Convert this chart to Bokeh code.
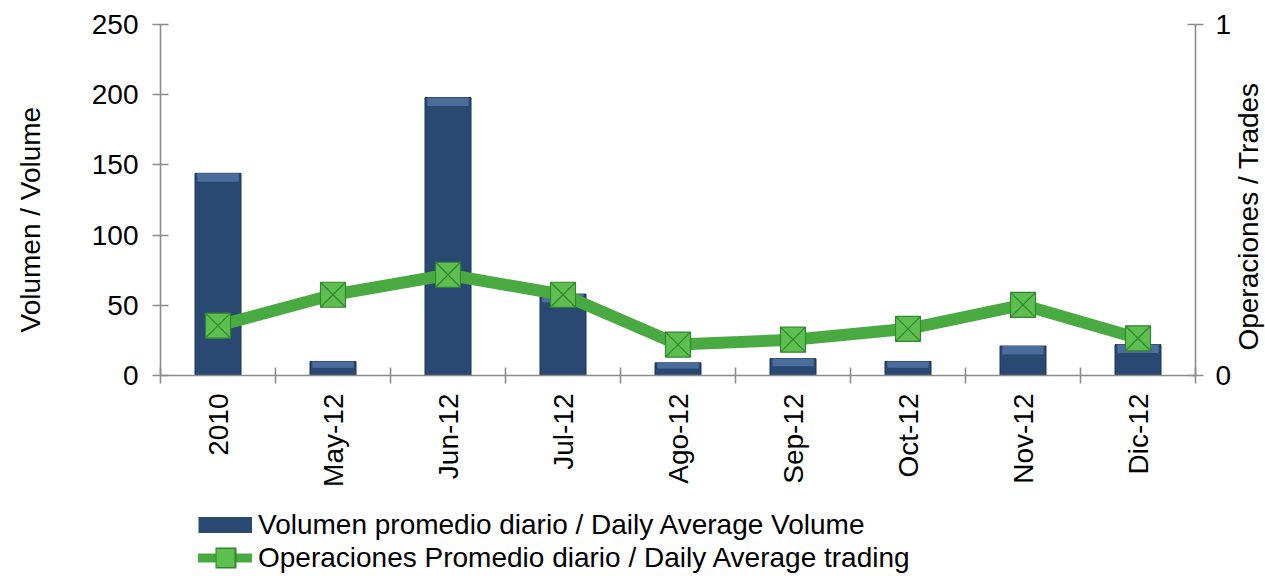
import math
from bokeh.plotting import figure
from bokeh.layouts import column
from bokeh.models import (Range1d, LinearAxis, FixedTicker, Legend, LegendItem,
                          ColumnDataSource, Label)
from bokeh.embed import file_html
from bokeh.resources import INLINE

categories = ["2010", "May-12", "Jun-12", "Jul-12", "Ago-12", "Sep-12", "Oct-12", "Nov-12", "Dic-12"]
volume = [144, 10, 198, 58, 9, 12, 10, 21, 22]
trades = [0.142, 0.23, 0.287, 0.23, 0.088, 0.102, 0.133, 0.201, 0.106]
left_ticks = [0, 50, 100, 150, 200, 250]
right_ticks = [0, 1]
volume_label = "Volumen promedio diario / Daily Average Volume"
trades_label = "Operaciones Promedio diario / Daily Average trading"
left_title = "Volumen / Volume"
right_title = "Operaciones / Trades"

FONT = "Liberation Sans"
FS = "28px"
AXIS_COL = "#8c8c8c"
BAR_COL = "#294872"
BEVEL_COL = "#4a6d9c"
GREEN = "#4aaa42"
MARK_FILL = "#5cbf50"
MARK_LINE = "#33862d"

xs = list(range(len(categories)))
src = ColumnDataSource(dict(
    x=xs, vol=volume, trd=trades,
    bevel_bottom=[v - min(6, v * 0.45) for v in volume],
))

# ---------------- main chart ----------------
p = figure(width=1265, height=490,
           x_range=Range1d(-0.5, len(categories) - 0.5),
           y_range=Range1d(left_ticks[0], left_ticks[-1]),
           output_backend="svg", toolbar_location=None,
           min_border_left=160, min_border_top=24, min_border_right=70,
           min_border_bottom=115, outline_line_color=None)
p.extra_y_ranges = {"right": Range1d(right_ticks[0], right_ticks[-1])}
p.xgrid.visible = False
p.ygrid.visible = False

p.vbar(x="x", top="vol", bottom=0, width=0.4, source=src,
       fill_color=BAR_COL, line_color="#1d3557", line_width=1)
p.vbar(x="x", top="vol", bottom="bevel_bottom", width=0.36, source=src,
       fill_color=BEVEL_COL, line_color=None)

p.line(x="x", y="trd", source=src, y_range_name="right",
       line_width=12, line_color=GREEN, line_join="round")
p.scatter(x="x", y="trd", source=src, y_range_name="right",
          marker="square_x", size=25, fill_color=MARK_FILL,
          line_color=MARK_LINE, line_width=1.2)

def style_axis(ax):
    ax.axis_line_color = AXIS_COL
    ax.axis_line_width = 1.6
    ax.major_tick_line_color = AXIS_COL
    ax.major_tick_line_width = 1.6
    ax.minor_tick_line_color = None
    ax.major_label_text_font = FONT
    ax.major_label_text_font_size = FS
    ax.major_label_text_color = "black"

ly = p.yaxis[0]
style_axis(ly)
ly.ticker = FixedTicker(ticks=left_ticks)
ly.major_tick_in = 8
ly.major_tick_out = 8
ly.major_label_standoff = 14

ry = LinearAxis(y_range_name="right", ticker=FixedTicker(ticks=right_ticks))
style_axis(ry)
ry.major_tick_in = 8
ry.major_tick_out = 8
ry.major_label_standoff = 12
p.add_layout(ry, "right")

bx = p.xaxis[0]
style_axis(bx)
bx.ticker = FixedTicker(ticks=xs, minor_ticks=[i - 0.5 for i in range(len(categories) + 1)])
bx.major_tick_line_color = None
bx.major_tick_in = 0
bx.major_tick_out = 8
bx.minor_tick_line_color = AXIS_COL
bx.minor_tick_line_width = 1.6
bx.minor_tick_in = 8
bx.minor_tick_out = 8
bx.major_label_standoff = 10
bx.major_label_orientation = math.pi / 2
bx.major_label_overrides = {i: c for i, c in enumerate(categories)}

# axis titles, both reading bottom-to-top, in the side panels
p.add_layout(Label(x=-1.63, y=111, text=left_title, angle=math.pi / 2,
                   text_align="center", text_baseline="middle",
                   text_font=FONT, text_font_size=FS, text_color="black"), "left")
p.add_layout(Label(x=len(categories) - 0.04, y=0.453, y_range_name="right",
                   text=right_title, angle=math.pi / 2,
                   text_align="center", text_baseline="middle",
                   text_font=FONT, text_font_size=FS, text_color="black"), "right")

# ---------------- legend strip ----------------
lg = figure(width=1265, height=86, x_range=Range1d(0, 1), y_range=Range1d(0, 1),
            output_backend="svg", toolbar_location=None,
            x_axis_location=None, y_axis_location=None,
            min_border=0, min_border_left=0, min_border_right=0,
            min_border_top=0, min_border_bottom=0, outline_line_color=None)
lg.xgrid.visible = False
lg.ygrid.visible = False
nan = float("nan")
bar_proxy = lg.line(x=[nan], y=[nan], line_width=16, line_color=BAR_COL, line_cap="butt")
line_proxy = lg.line(x=[nan], y=[nan], line_width=9, line_color=GREEN, line_cap="round")
sq_border = lg.line(x=[nan], y=[nan], line_width=21, line_color=MARK_LINE, line_cap="butt",
                    line_dash="0 17 21 100")
sq_fill = lg.line(x=[nan], y=[nan], line_width=18, line_color=MARK_FILL, line_cap="butt",
                  line_dash="0 18 18 100")

legend = Legend(items=[
    LegendItem(label=volume_label, renderers=[bar_proxy]),
    LegendItem(label=trades_label, renderers=[line_proxy, sq_border, sq_fill]),
], location=(38, 2))
legend.label_text_font = FONT
legend.label_text_font_size = FS
legend.label_text_color = "black"
legend.label_standoff = 6
legend.glyph_width = 54
legend.glyph_height = 33
legend.spacing = 0
legend.padding = 0
legend.margin = 0
legend.border_line_color = None
legend.background_fill_alpha = 0
lg.add_layout(legend, "center")

layout = column(p, lg, spacing=0)
open("out.html", "w").write(file_html(layout, INLINE))
